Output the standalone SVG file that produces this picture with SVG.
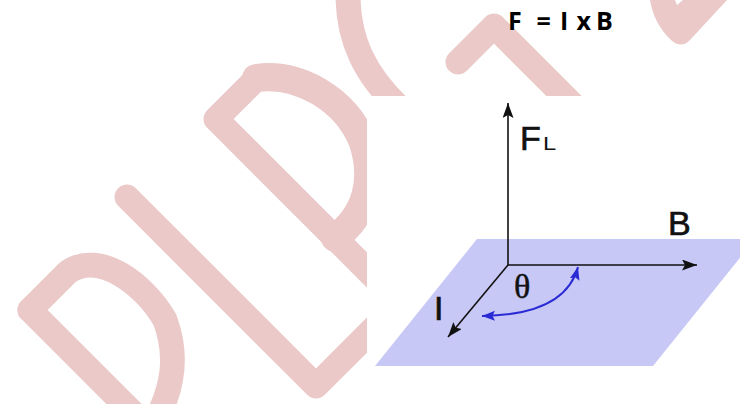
<svg xmlns="http://www.w3.org/2000/svg" width="740" height="404" viewBox="0 0 740 404">
  <style>
    .wm { fill: none; stroke: #ebc9c9; stroke-width: 25; stroke-linejoin: round; stroke-linecap: round; }
    .ax { fill: none; stroke: #111; stroke-width: 1.6; }
    .arc { fill: none; stroke: #2b2bd6; stroke-width: 2; }
    .lbl { font-family: "Liberation Sans", Arial, sans-serif; fill: #111; stroke: #111; stroke-width: 0.7; }
    .title { font-family: "Open Sans", "Liberation Sans", sans-serif; font-weight: bold; font-size: 25px; fill: #000; }
  </style>
  <defs>
    <clipPath id="wmclip">
      <path d="M0,0 H740 V96 H367 V404 H0 Z"/>
    </clipPath>
    <marker id="ah" markerUnits="userSpaceOnUse" markerWidth="16" markerHeight="12" refX="15" refY="5.5" orient="auto">
      <path d="M0,0 L15,5.5 L0,11 L3,5.5 Z" fill="#111"/>
    </marker>
    <marker id="bh" markerUnits="userSpaceOnUse" markerWidth="14" markerHeight="11" refX="13" refY="5" orient="auto-start-reverse">
      <path d="M0,0 L13,5 L0,10 L2.5,5 Z" fill="#2b2bd6"/>
    </marker>
  </defs>
  <rect width="740" height="404" fill="#fff"/>

  <g id="watermark" clip-path="url(#wmclip)">
    <path class="wm" d="M30,310 L150,430"/>
    <path class="wm" d="M30,310 L68,272 C100,250 145,285 165,320 C178,355 175,390 150,430"/>
    <path class="wm" d="M127,197 L316,386 L400,302"/>
    <path class="wm" d="M420,323 L216,119 L258,77"/>
    <path class="wm" style="stroke-width:28" d="M256,78 C300,72 345,100 362,140 C376,180 366,215 335,238"/>
    <path class="wm" d="M348,-5 C348,40 365,75 400,108"/>
    <path class="wm" d="M458,62 L494,26 L620,152"/>
    <path d="M650,0 L675,0 L677,5 L683,0 L727,0 L690,40 Q681,49 671,40 Q654,24 650,0 Z" fill="#ebc9c9"/>
  </g>

  <g id="title">
    <text class="title" x="508 525 536.5 552 560 568 576.5 592 596" y="30">F = I x B</text>
  </g>

  <g id="plane">
    <path d="M477,239 L755,239 L653,366 L375,366 Z" fill="#c8c8f6"/>
  </g>

  <g id="connectors">
    <path id="axis-F" class="ax" d="M508,265 L508,103" marker-end="url(#ah)"/>
    <path id="axis-B" class="ax" d="M508,265 L697,265" marker-end="url(#ah)"/>
    <path id="axis-I" class="ax" d="M508,265 L448,337" marker-end="url(#ah)"/>
    <path id="angle-arc" class="arc" d="M578,267 Q565,315 482,316" marker-start="url(#bh)" marker-end="url(#bh)"/>
  </g>

  <g id="label-FL">
    <text class="lbl" x="520" y="150" font-size="34">F</text>
    <text x="543" y="150" font-size="19" font-family="'Liberation Sans', Arial, sans-serif" fill="#111" transform="translate(543 150) scale(1.25 1) translate(-543 -150)">L</text>
  </g>
  <g id="label-B">
    <text class="lbl" x="668" y="235" font-size="34">B</text>
  </g>
  <g id="label-I">
    <text class="lbl" x="434" y="320" font-size="34">I</text>
  </g>
  <g id="label-theta">
    <text x="514" y="298" font-family="'Liberation Serif', 'Times New Roman', serif" font-size="34" fill="#111" stroke="#111" stroke-width="0.5">θ</text>
  </g>
</svg>
